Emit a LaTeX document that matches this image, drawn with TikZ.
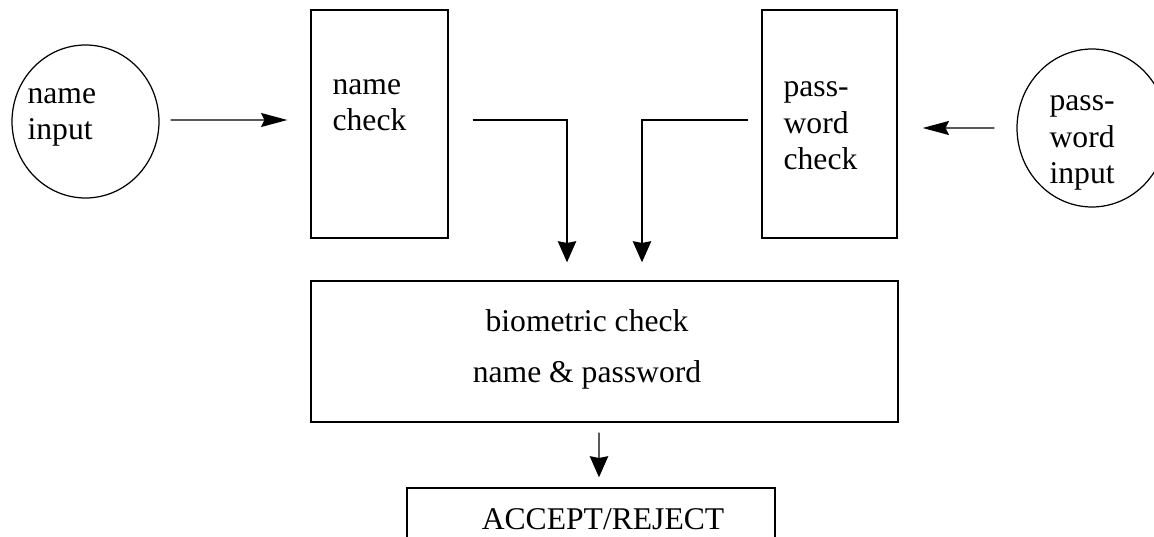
\documentclass[tikz,border=0pt]{standalone}
\usepackage{fontspec}
\setmainfont{Liberation Serif}
\usetikzlibrary{positioning,shapes.geometric,arrows.meta}

\begin{document}
\begin{tikzpicture}[x=0.02cm, y=-0.02cm,
	font=\rmfamily\fontsize{18}{21}\selectfont,
	blk/.style={draw, line width=0.8pt, inner sep=0pt},
	inp/.style={draw, ellipse, line width=0.7pt, inner sep=0pt},
	txt/.style={draw=none, fill=none, inner sep=0pt, anchor=base west},
	>={Stealth[length=15pt, width=8pt, inset=2pt]},
	down/.style={-{Stealth[length=12pt, width=10.5pt, inset=1pt]}},
	line width=0.7pt]
	\useasboundingbox (0,0) rectangle (1154,537);
	\clip (0,0) rectangle (1154,537);
	\node [inp, minimum width=2.94cm, minimum height=3.06cm] (A) at (85.5,121.5) {};
	\node [blk, minimum width=2.74cm, minimum height=4.56cm] (B) at (379.5,124) {};
	\node [blk, minimum width=2.70cm, minimum height=4.56cm] (C) at (829.5,124) {};
	\node [inp, minimum width=3.0cm, minimum height=3.16cm] (D) at (1092,128) {};
	\node [blk, minimum width=11.74cm, minimum height=2.82cm] (E) at (604.5,351.5) {};
	\node [blk, minimum width=7.36cm, minimum height=2.0cm] (F) at (591,538) {};
	% text blocks, anchored at the baseline of their last line
	\node [txt] (tA) at (27,140) {\begin{tabular}[b]{@{}l@{}}name\\input\end{tabular}};
	\node [txt] (tB) at (332,131) {\begin{tabular}[b]{@{}l@{}}name\\check\end{tabular}};
	\node [txt] (tC) at (783,170) {\begin{tabular}[b]{@{}l@{}}pass-\\word\\check\end{tabular}};
	\node [txt] (tD) at (1049,184) {\begin{tabular}[b]{@{}l@{}}pass-\\word\\input\end{tabular}};
	\node [txt, anchor=base] (tE) at (587,382) {\begin{tabular}[b]{@{}c@{}}biometric check\\[7.5pt]name \& password\end{tabular}};
	\node [txt, anchor=base] (tF) at (603,529) {ACCEPT/REJECT};
	\draw [->] ([xshift=0.22cm, yshift=0.03cm]A.east) -- ([xshift=-0.46cm, yshift=0.08cm]B.west);
	\draw [down] ([xshift=0.48cm, yshift=0.08cm]B.east) -| ([xshift=-0.75cm, yshift=0.36cm]E.north);
	\draw [down] ([xshift=-0.26cm, yshift=0.08cm]C.west) -| ([xshift=0.75cm, yshift=0.36cm]E.north);
	\draw [->] ([xshift=-0.44cm]D.west) -- ([xshift=0.5cm, yshift=-0.08cm]C.east);
	\draw [down] ([xshift=-0.11cm, yshift=-0.2cm]E.south) -- ([xshift=0.16cm, yshift=0.2cm]F.north);
\end{tikzpicture}
\end{document}
